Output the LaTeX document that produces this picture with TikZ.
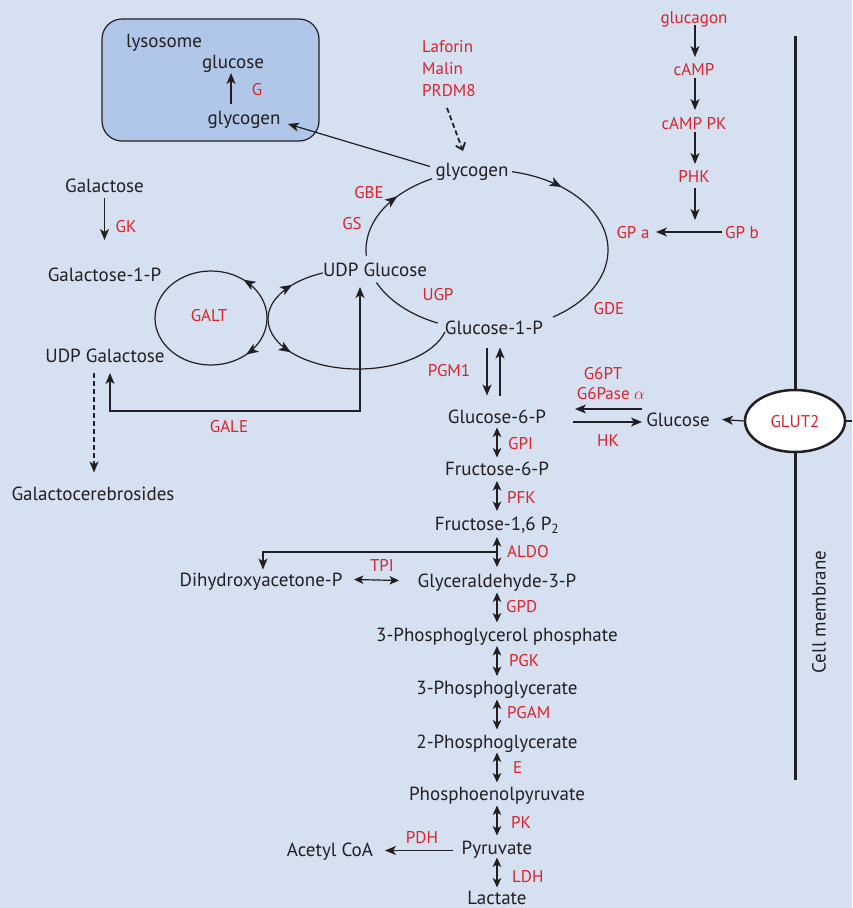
\documentclass[tikz,border=0pt]{standalone}
\usepackage{fontspec}
\setmainfont{PT Sans}
\usetikzlibrary{arrows.meta,decorations.markings,calc,shapes.geometric}
\definecolor{bg}{RGB}{213,224,241}
\definecolor{lys}{RGB}{176,199,233}
\definecolor{enz}{RGB}{220,35,45}
\definecolor{ink}{RGB}{35,31,32}
\tikzset{
  met/.style={font=\fontsize{19}{22}\selectfont, text=ink, inner sep=0pt, text height=14.4pt, text depth=1pt},
  enzl/.style={font=\fontsize{17}{20}\selectfont, text=enz, inner sep=0pt, text height=13pt, text depth=1pt},
  con/.style={draw=ink, line width=1.2pt},
  tipA/.tip={Stealth[length=11pt,width=9pt,inset=3pt]},
  tipB/.tip={Stealth[length=9.5pt,width=8.5pt,inset=2.5pt]},
  arr/.style={con, -tipA},
  dbl/.style={con, tipB-tipB},
  midarr/.style={postaction={decorate}, decoration={markings, mark=at position #1 with {\arrow{Stealth[length=12pt,width=9.5pt,inset=3pt]}}}},
}
\begin{document}
\begin{tikzpicture}[x=1pt,y=1pt]
\fill[bg] (0,0) rectangle (852,-908);
\useasboundingbox (0,0) rectangle (852,-908);

% lysosome
\draw[draw=ink, fill=lys, line width=1.2pt, rounded corners=20pt] (102,-19) rectangle (319,-141);
\node[met] (lysn) at (164,-40.5) {lysosome};
\node[met] (lglc) at (233,-61.5) {glucose};
\node[met] (lgly) at (244,-117.5) {glycogen};
\node[enzl] (lg) at (257,-89) {G};
\draw[arr] ([shift={(-13,13.5)}]lgly.center) -- ([shift={(-2,-11.5)}]lglc.center);

% glycogen cycle
\node[met] (glyc) at (472,-169.5) {glycogen};
\node[met] (udpg) at (375,-269.5) {UDP Glucose};
\node[met] (g1p) at (494,-327.5) {Glucose-1-P};
\draw[arr] ([shift={(-42,3)}]glyc.center) -- ([shift={(44,-6.5)}]lgly.center);

\coordinate (cyc) at (487,-250);
\draw[con, midarr=0.64] ($(cyc)+(184:121pt and 80pt)$) arc[start angle=184, end angle=117, x radius=121pt, y radius=80pt];
\draw[con, midarr=0.23] ($(cyc)+(78:121pt and 80pt)$) arc[start angle=78, end angle=-57, x radius=121pt, y radius=80pt];
\draw[con] ($(cyc)+(204:121pt and 80pt)$) arc[start angle=204, end angle=246, x radius=121pt, y radius=80pt];

\node[enzl] (gbe) at (369,-192) {GBE};
\node[enzl] (gs) at (352,-223) {GS};
\node[enzl] (ugp) at (438,-294) {UGP};
\node[enzl] (gde) at (609,-308) {GDE};

% Laforin
\node[enzl, anchor=west] (laf) at (422,-46) {Laforin};
\node[enzl, anchor=west] (mal) at (422,-68) {Malin};
\node[enzl, anchor=west] (prdm) at (422,-90) {PRDM8};
\draw[draw=ink, line width=1.8pt, dash pattern=on 5pt off 3pt, -{Straight Barb[length=6pt,width=10pt]}] ([shift={(25,-18)}]prdm.west) -- ([shift={(-9,18.5)}]glyc.center);

% glucagon cascade
\node[enzl] (gcg) at (694,-17) {glucagon};
\node[enzl] (camp) at (694,-69) {cAMP};
\node[enzl] (camppk) at (694,-123) {cAMP PK};
\node[enzl] (phk) at (694,-176) {PHK};
\node[enzl] (gpb) at (742,-232) {GP b};
\node[enzl] (gpa) at (633,-232) {GP a};
\draw[arr] ([shift={(1,-8)}]gcg.center) -- ([shift={(1,12)}]camp.center);
\draw[arr] ([shift={(1,-9)}]camp.center) -- ([shift={(1,13)}]camppk.center);
\draw[arr] ([shift={(1,-9)}]camppk.center) -- ([shift={(1,12)}]phk.center);
\draw[arr] ([shift={(1,-12)}]phk.center) -- ([shift={(-47,12)}]gpb.center);
\draw[arr] ([xshift=-20]gpb.center) -- ([xshift=23]gpa.center);

% membrane & GLUT2
\draw[draw=ink, line width=3pt] (795,-36) -- (795,-780);
\node[ellipse, draw=ink, fill=white, line width=2.5pt, minimum width=100pt, minimum height=62pt, inner sep=0pt] (glut) at (795,-421) {};
\node[enzl] at (glut.center) {GLUT2};
\node[met, rotate=90] (cm) at (819,-612) {Cell membrane};
\coordinate (edge) at (852,-421);
\draw[con] (glut.east) -- (edge);

% glucose-6-P & glucose
\node[met] (g6p) at (497,-416.5) {Glucose-6-P};
\node[met] (glc) at (678,-419.5) {Glucose};
\draw[arr] (glut.west) -- ([xshift=44]glc.center);
\draw[arr] ([shift={(-36,10.5)}]glc.center) -- ([shift={(78,7.5)}]g6p.center);
\draw[arr] ([shift={(76,-5.5)}]g6p.center) -- ([shift={(-36,-2.5)}]glc.center);
\node[enzl] (g6pt) at (603,-373) {G6PT};
\node[enzl] (g6pase) at (611,-393) {G6Pase $\alpha$};
\node[enzl] (hk) at (608,-440) {HK};

% PGM1
\draw[arr] ([shift={(-7,-20)}]g1p.center) -- ([shift={(-10,21)}]g6p.center);
\draw[arr] ([shift={(3,21)}]g6p.center) -- ([shift={(6,-20)}]g1p.center);
\node[enzl] (pgm) at (449,-370) {PGM1};

% galactose
\node[met] (gal) at (104.5,-185.5) {Galactose};
\node[met] (gal1p) at (104.5,-275) {Galactose-1-P};
\node[met] (udpgal) at (105,-356) {UDP Galactose};
\node[met] (gcb) at (93,-493.5) {Galactocerebrosides};
\node[enzl] (gk) at (126,-226) {GK};
\draw[arr] ([yshift=-12]gal.center) -- ([yshift=35]gal1p.center);

% GALT ellipse
\coordinate (galt) at (211,-318);
\draw[con, midarr=0.29] ($(galt)+(0:56pt and 47pt)$) arc[start angle=0, end angle=180, x radius=56pt, y radius=47pt];
\draw[con, midarr=0.27] ($(galt)+(0:56pt and 47pt)$) arc[start angle=360, end angle=180, x radius=56pt, y radius=47pt];
\node[enzl] (galtl) at (209,-315) {GALT};

% right loop to UDP glucose / glucose-1-P
\coordinate (loop) at (358,-319);
\draw[con, midarr=0.57] ($(loop)+(180:90pt and 50pt)$) arc[start angle=180, end angle=113, x radius=90pt, y radius=50pt];
\draw[con, midarr=0.2] ($(loop)+(180:90pt and 50pt)$) arc[start angle=180, end angle=345, x radius=90pt, y radius=50pt];

% GALE
\coordinate (galey) at (230,-411);
\coordinate (ugalb) at ([shift={(5,-17)}]udpgal.center);
\coordinate (uglcb) at ([shift={(-15,-17.5)}]udpg.center);
\draw[con, tipA-tipA] (ugalb) -- (ugalb |- galey) -- (uglcb |- galey) -- (uglcb);
\node[enzl] (gale) at (229,-426) {GALE};
\draw[con, dash pattern=on 5pt off 3pt, -tipA] ([shift={(-11,-17)}]udpgal.center) -- ([shift={(1,21)}]gcb.center);

% glycolysis
\node[met] (f6p) at (497,-468.5) {Fructose-6-P};
\node[met] (f16) at (497,-523.5) {Fructose-1,6 P\textsubscript{2}};
\node[met] (gap) at (497,-580.5) {Glyceraldehyde-3-P};
\node[met] (dhap) at (261,-579.5) {Dihydroxyacetone-P};
\node[met] (pgp) at (497,-634.5) {3-Phosphoglycerol phosphate};
\node[met] (pg3) at (497,-687.5) {3-Phosphoglycerate};
\node[met] (pg2) at (497,-741.5) {2-Phosphoglycerate};
\node[met] (pep) at (497,-793.5) {Phosphoenolpyruvate};
\node[met] (pyr) at (497,-847.5) {Pyruvate};
\node[met] (acoa) at (330,-849.5) {Acetyl CoA};
\node[met] (lac) at (497,-897.5) {Lactate};

\foreach \a/\b in {g6p/f6p, f6p/f16, f16/gap, gap/pgp, pgp/pg3, pg3/pg2, pg2/pep, pep/pyr, pyr/lac}{
  \draw[dbl] ($(\a)!0.5!(\b)+(0,15)$) -- ($(\a)!0.5!(\b)-(0,15)$);
}
\node[enzl, anchor=west] at (508,-443) {GPI};
\node[enzl, anchor=west] at (507,-497) {PFK};
\node[enzl, anchor=west] at (507,-551) {ALDO};
\node[enzl, anchor=west] at (506,-606) {GPD};
\node[enzl, anchor=west] at (509,-660) {PGK};
\node[enzl, anchor=west] at (507,-712) {PGAM};
\node[enzl, anchor=west] at (513,-767) {E};
\node[enzl, anchor=west] at (511,-822) {PK};
\node[enzl, anchor=west] at (512,-876) {LDH};

\draw[arr] ($(f16)!0.5!(gap)$) -| ([shift={(2,10)}]dhap.center);
\draw[dbl] ([shift={(93,0)}]dhap.center) -- ([shift={(-98,0)}]gap.center);
\node[enzl] (tpi) at (382,-565) {TPI};
\draw[arr] ([shift={(-44,-3)}]pyr.center) -- ([shift={(55,-1)}]acoa.center);
\node[enzl] (pdh) at (422,-837) {PDH};
\end{tikzpicture}
\end{document}
